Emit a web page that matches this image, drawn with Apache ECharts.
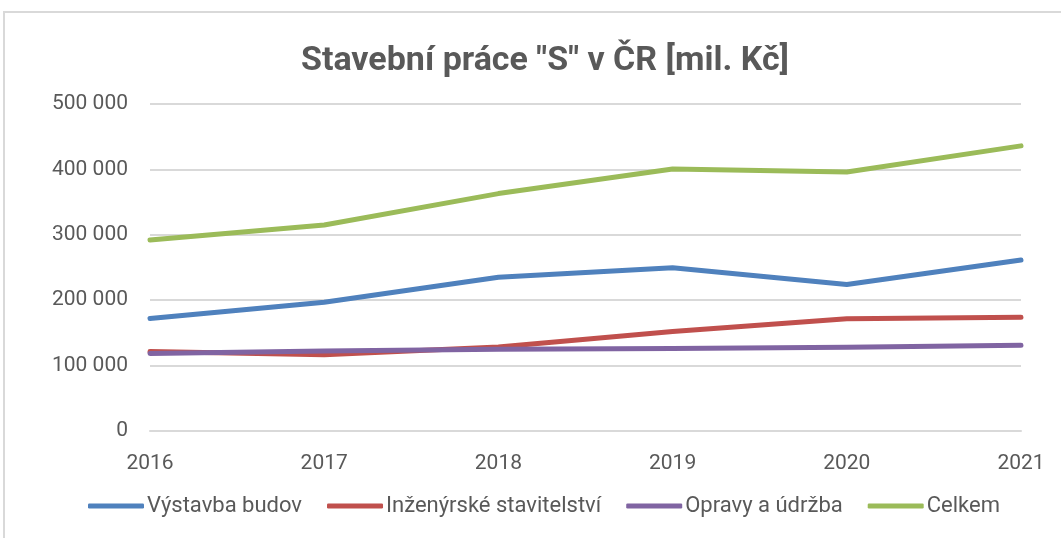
<!DOCTYPE html>
<html>
<head>
<meta charset="utf-8">
<script src="https://cdn.jsdelivr.net/npm/echarts@6/dist/echarts.min.js"></script>
<style>
  html, body { margin: 0; padding: 0; background: #fff; }
  #chart { width: 1061px; height: 538px; }
</style>
</head>
<body>
<div id="chart"></div>
<script>
// data (mil. Kč)
const years = ['2016', '2017', '2018', '2019', '2020', '2021']
const vystavbaBudov = [172000, 197000, 235000, 249500, 224000, 261500]
const inzenyrske = [121500, 116500, 128500, 152000, 171500, 174000]
const opravy = [118500, 122500, 125000, 126000, 128000, 131000]
const celkem = [292000, 315000, 363000, 400500, 396000, 436000]
const yTicks = [0, 100000, 200000, 300000, 400000, 500000]

const txt = '#595959'
const font = 'Roboto, "Noto Sans", sans-serif'

// 500000 -> "500 000"
const fmt = (v) => String(v).replace(/\B(?=(\d{3})+(?!\d))/g, ' ')

const mkLine = (name, data, color) => ({
  name,
  type: 'line',
  data,
  symbol: 'none',
  lineStyle: { width: 5, color, cap: 'round', join: 'round' },
  itemStyle: { color }
})

const chart = echarts.init(document.getElementById('chart'))
chart.setOption({
  animation: false,
  textStyle: { fontFamily: font },
  graphic: [
    {
      type: 'rect',
      shape: { x: 4, y: 12, width: 1100, height: 600 },
      style: { fill: 'none', stroke: '#d9d9d9', lineWidth: 2 },
      silent: true
    }
  ],
  title: {
    text: 'Stavební práce "S" v ČR [mil. Kč]',
    left: 540,
    textAlign: 'center',
    top: 39,
    textStyle: { color: txt, fontSize: 34, fontWeight: 'bold', fontFamily: font }
  },
  legend: {
    top: 495,
    left: 88,
    padding: 0,
    icon: 'roundRect',
    itemWidth: 56,
    itemHeight: 5,
    itemGap: 25,
    textStyle: { color: txt, fontSize: 22, fontFamily: font, padding: [0, 0, 0, -2] },
    data: ['Výstavba budov', 'Inženýrské stavitelství', 'Opravy a údržba', 'Celkem']
  },
  grid: { left: 150, right: 40, top: 104, bottom: 107 },
  xAxis: {
    type: 'category',
    data: years,
    boundaryGap: false,
    axisTick: { show: false },
    axisLine: { lineStyle: { color: '#d9d9d9', width: 2 } },
    axisLabel: { color: txt, fontSize: 21, margin: 22 }
  },
  yAxis: {
    type: 'value',
    min: yTicks[0],
    max: yTicks[yTicks.length - 1],
    interval: yTicks[1] - yTicks[0],
    axisLine: { show: false },
    axisTick: { show: false },
    splitLine: { lineStyle: { color: '#d9d9d9', width: 2 } },
    axisLabel: { color: txt, fontSize: 21, margin: 22, formatter: fmt }
  },
  series: [
    mkLine('Výstavba budov', vystavbaBudov, '#4f81bd'),
    mkLine('Inženýrské stavitelství', inzenyrske, '#c0504d'),
    mkLine('Opravy a údržba', opravy, '#8064a2'),
    mkLine('Celkem', celkem, '#9bbb59')
  ]
})

window.addEventListener('resize', () => chart.resize())
</script>
</body>
</html>
